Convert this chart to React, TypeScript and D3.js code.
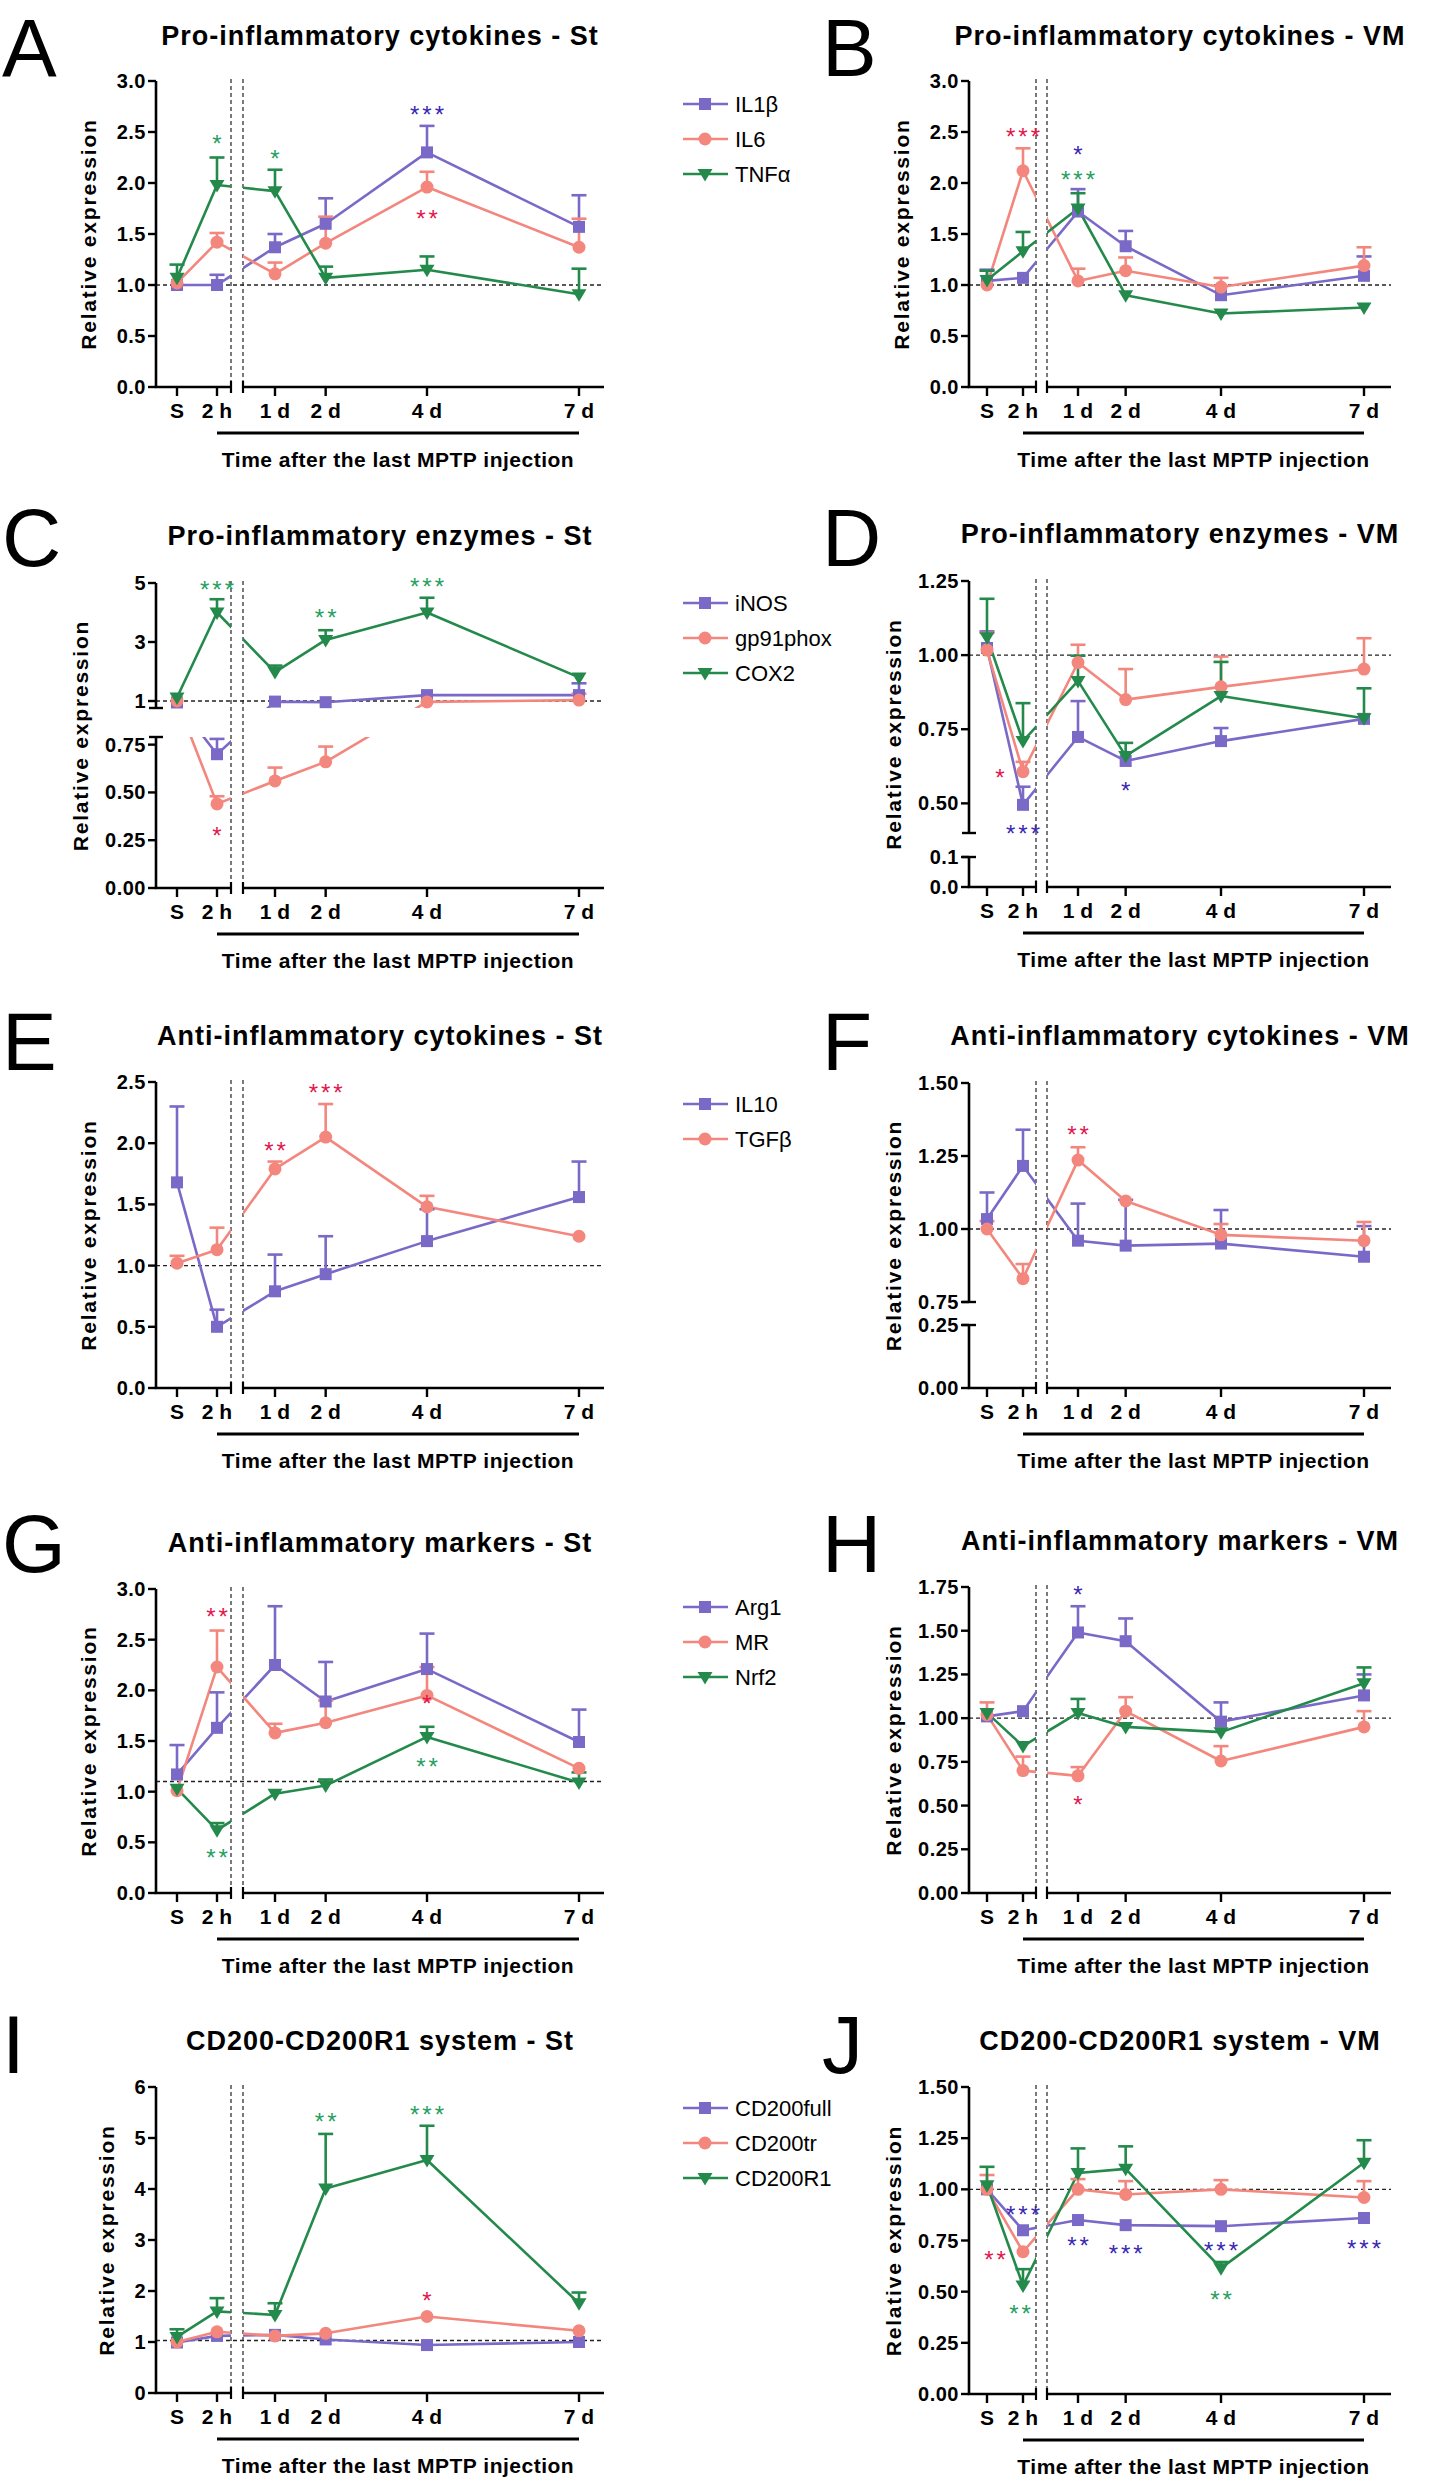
import * as d3 from "d3";
import React from "react";

// time points: sham, 2 h, then days after last MPTP injection
const timeLabels = ["S", "2 h", "1 d", "2 d", "4 d", "7 d"];
const timeDays = [0, 0, 1, 2, 4, 7];

// A - pro-inflammatory cytokines, striatum
const stCytoIL1b = [1.0, 1.0, 1.37, 1.6, 2.3, 1.57];
const stCytoIL1bSem = [0.02, 0.1, 0.13, 0.25, 0.26, 0.31];
const stCytoIL6 = [1.02, 1.42, 1.11, 1.41, 1.96, 1.37];
const stCytoIL6Sem = [0.04, 0.09, 0.11, 0.26, 0.15, 0.28];
const stCytoTNFa = [1.07, 1.98, 1.92, 1.07, 1.15, 0.91];
const stCytoTNFaSem = [0.13, 0.27, 0.21, 0.11, 0.13, 0.25];

// B - pro-inflammatory cytokines, VM
const vmCytoIL1b = [1.04, 1.07, 1.72, 1.38, 0.9, 1.09];
const vmCytoIL1bSem = [0.11, 0.03, 0.22, 0.15, 0.03, 0.19];
const vmCytoIL6 = [1.0, 2.12, 1.04, 1.14, 0.98, 1.19];
const vmCytoIL6Sem = [0.03, 0.22, 0.12, 0.13, 0.09, 0.18];
const vmCytoTNFa = [1.05, 1.33, 1.75, 0.9, 0.72, 0.78];
const vmCytoTNFaSem = [0.09, 0.19, 0.15, 0.02, 0.02, 0.02];

// C - pro-inflammatory enzymes, striatum
const stEnzINOS = [0.95, 0.7, 0.98, 0.96, 1.2, 1.2];
const stEnzINOSSem = [0.03, 0.08, 0.05, 0.03, 0.05, 0.4];
const stEnzGp91 = [1.0, 0.44, 0.56, 0.66, 0.97, 1.03];
const stEnzGp91Sem = [0.02, 0.04, 0.07, 0.08, 0.03, 0.22];
const stEnzCOX2 = [1.12, 4.0, 1.98, 3.07, 4.0, 1.8];
const stEnzCOX2Sem = [0.1, 0.45, 0.22, 0.33, 0.5, 0.15];

// D - pro-inflammatory enzymes, VM
const vmEnzINOS = [1.024, 0.495, 0.724, 0.643, 0.71, 0.785];
const vmEnzINOSSem = [0.056, 0.061, 0.121, 0.01, 0.044, 0.01];
const vmEnzGp91 = [1.017, 0.607, 0.975, 0.85, 0.893, 0.953];
const vmEnzGp91Sem = [0.058, 0.033, 0.06, 0.103, 0.102, 0.104];
const vmEnzCOX2 = [1.06, 0.71, 0.913, 0.66, 0.862, 0.787];
const vmEnzCOX2Sem = [0.13, 0.128, 0.085, 0.044, 0.115, 0.101];

// E - anti-inflammatory cytokines, striatum
const stAntiIL10 = [1.68, 0.5, 0.79, 0.93, 1.2, 1.56];
const stAntiIL10Sem = [0.62, 0.14, 0.3, 0.31, 0.26, 0.29];
const stAntiTGFb = [1.02, 1.13, 1.79, 2.05, 1.48, 1.24];
const stAntiTGFbSem = [0.06, 0.18, 0.06, 0.27, 0.09, 0.02];

// F - anti-inflammatory cytokines, VM
const vmAntiIL10 = [1.034, 1.216, 0.96, 0.943, 0.95, 0.905];
const vmAntiIL10Sem = [0.091, 0.124, 0.127, 0.157, 0.115, 0.105];
const vmAntiTGFb = [1.0, 0.83, 1.236, 1.096, 0.98, 0.96];
const vmAntiTGFbSem = [0.027, 0.05, 0.044, 0.017, 0.037, 0.064];

// G - anti-inflammatory markers, striatum
const stMarkArg1 = [1.17, 1.63, 2.25, 1.89, 2.21, 1.49];
const stMarkArg1Sem = [0.29, 0.35, 0.58, 0.39, 0.35, 0.32];
const stMarkMR = [1.01, 2.23, 1.58, 1.68, 1.95, 1.23];
const stMarkMRSem = [0.03, 0.36, 0.09, 0.22, 0.28, 0.02];
const stMarkNrf2 = [1.03, 0.62, 0.98, 1.06, 1.54, 1.09];
const stMarkNrf2Sem = [0.03, 0.07, 0.02, 0.06, 0.1, 0.1];

// H - anti-inflammatory markers, VM
const vmMarkArg1 = [1.01, 1.04, 1.49, 1.44, 0.98, 1.13];
const vmMarkArg1Sem = [0.02, 0.03, 0.15, 0.13, 0.11, 0.12];
const vmMarkMR = [1.02, 0.7, 0.67, 1.04, 0.755, 0.95];
const vmMarkMRSem = [0.07, 0.08, 0.05, 0.08, 0.085, 0.09];
const vmMarkNrf2 = [1.03, 0.84, 1.03, 0.95, 0.92, 1.2];
const vmMarkNrf2Sem = [0.02, 0.01, 0.08, 0.01, 0.01, 0.09];

// I - CD200-CD200R1, striatum
const stCDFull = [0.99, 1.12, 1.14, 1.05, 0.94, 1.0];
const stCDFullSem = [0.02, 0.05, 0.05, 0.03, 0.03, 0.04];
const stCDTr = [1.0, 1.2, 1.12, 1.17, 1.5, 1.22];
const stCDTrSem = [0.03, 0.04, 0.04, 0.04, 0.04, 0.04];
const stCDR1 = [1.1, 1.6, 1.53, 4.01, 4.57, 1.76];
const stCDR1Sem = [0.15, 0.26, 0.23, 1.07, 0.67, 0.21];

// J - CD200-CD200R1, VM
const vmCDFull = [1.0, 0.8, 0.85, 0.825, 0.82, 0.86];
const vmCDFullSem = [0.02, 0.01, 0.01, 0.01, 0.01, 0.025];
const vmCDTr = [1.0, 0.695, 1.0, 0.975, 1.0, 0.96];
const vmCDTrSem = [0.07, 0.01, 0.05, 0.065, 0.045, 0.08];
const vmCDR1 = [1.02, 0.53, 1.08, 1.1, 0.615, 1.13];
const vmCDR1Sem = [0.09, 0.08, 0.12, 0.11, 0.03, 0.11];

// significance marks: [series, time index, value where the mark sits, label, x nudge]
const starsA = [[2, 1, 2.43, "*"], [2, 2, 2.28, "*"], [0, 4, 2.72, "***"], [1, 4, 1.7, "**"]];
const starsB = [[1, 1, 2.5, "***"], [0, 2, 2.32, "*"], [2, 2, 2.08, "***"]];
const starsC = [[2, 1, 4.93, "***"], [2, 3, 3.98, "**"], [2, 4, 5.03, "***"], [1, 1, 0.3, "*"]];
const starsD = [[1, 1, 0.604, "*", -23], [0, 1, 0.4125, "***"], [0, 3, 0.557, "*"]];
const starsE = [[1, 2, 1.98, "**"], [1, 3, 2.45, "***"]];
const starsF = [[1, 2, 1.34, "**"]];
const starsG = [[1, 1, 2.77, "**"], [2, 1, 0.39, "**"], [1, 4, 1.91, "*"], [2, 4, 1.29, "**"]];
const starsH = [[0, 2, 1.73, "*"], [1, 2, 0.53, "*"]];
const starsI = [[2, 3, 5.41, "**"], [2, 4, 5.55, "***"], [1, 4, 1.9, "*"]];
const starsJ = [
  [0, 1, 0.9, "***"], [1, 1, 0.68, "**", -28], [2, 1, 0.415, "**", -3], [0, 2, 0.75, "**"],
  [0, 3, 0.71, "***"], [0, 4, 0.725, "***"], [2, 4, 0.485, "**"], [0, 5, 0.735, "***"],
];

const PURPLE = "#7b69c7";
const SALMON = "#f3877d";
const GREEN = "#248a4b";
const starColors = ["#3a27b2", "#e2164d", "#25a05e"];
const SANS = "'Liberation Sans', Arial, Helvetica, sans-serif";

const LEFT = { axisX: 156, brk1: 231, brk2: 243, xEnd: 604, xS: 177, x2h: 217, d1: 275, d7: 579, letterX: 2, legendX: 683 };
const RIGHT = { axisX: 969, brk1: 1036, brk2: 1047, xEnd: 1391, xS: 987, x2h: 1023, d1: 1078, d7: 1364, letterX: 822, legendX: 0 };

const tk = (a, b, s) => d3.range(a, b + s / 2, s);

const panels = [
  {
    id: "A", side: "L", title: "Pro-inflammatory cytokines - St", titleY: 45, letterY: 76, legendY: 104, ref: 1,
    segs: [{ lo: 0, hi: 3, bottom: 387, top: 81, ticks: tk(0, 3, 0.5), fmt: ".1f" }],
    series: [
      { name: "IL1β", mean: stCytoIL1b, sem: stCytoIL1bSem },
      { name: "IL6", mean: stCytoIL6, sem: stCytoIL6Sem },
      { name: "TNFα", mean: stCytoTNFa, sem: stCytoTNFaSem },
    ],
    stars: starsA,
  },
  {
    id: "B", side: "R", title: "Pro-inflammatory cytokines - VM", titleY: 45, letterY: 76, ref: 1,
    segs: [{ lo: 0, hi: 3, bottom: 387, top: 81, ticks: tk(0, 3, 0.5), fmt: ".1f" }],
    series: [
      { name: "IL1β", mean: vmCytoIL1b, sem: vmCytoIL1bSem },
      { name: "IL6", mean: vmCytoIL6, sem: vmCytoIL6Sem },
      { name: "TNFα", mean: vmCytoTNFa, sem: vmCytoTNFaSem },
    ],
    stars: starsB,
  },
  {
    id: "C", side: "L", title: "Pro-inflammatory enzymes - St", titleY: 545, letterY: 566, legendY: 603, ref: 1,
    segs: [
      { lo: 0.763, hi: 5, bottom: 708, top: 583, ticks: [1, 3, 5], fmt: "d" },
      { lo: 0, hi: 0.79, bottom: 888, top: 737, ticks: tk(0, 0.75, 0.25), fmt: ".2f" },
    ],
    series: [
      { name: "iNOS", mean: stEnzINOS, sem: stEnzINOSSem },
      { name: "gp91phox", mean: stEnzGp91, sem: stEnzGp91Sem },
      { name: "COX2", mean: stEnzCOX2, sem: stEnzCOX2Sem },
    ],
    stars: starsC,
  },
  {
    id: "D", side: "R", title: "Pro-inflammatory enzymes - VM", titleY: 543, letterY: 566, ref: 1,
    segs: [
      { lo: 0.4, hi: 1.25, bottom: 833, top: 581, ticks: tk(0.5, 1.25, 0.25), fmt: ".2f" },
      { lo: 0, hi: 0.1, bottom: 887, top: 857, ticks: [0, 0.1], fmt: ".1f" },
    ],
    series: [
      { name: "iNOS", mean: vmEnzINOS, sem: vmEnzINOSSem },
      { name: "gp91phox", mean: vmEnzGp91, sem: vmEnzGp91Sem },
      { name: "COX2", mean: vmEnzCOX2, sem: vmEnzCOX2Sem },
    ],
    stars: starsD,
  },
  {
    id: "E", side: "L", title: "Anti-inflammatory cytokines - St", titleY: 1045, letterY: 1070, legendY: 1104, ref: 1,
    segs: [{ lo: 0, hi: 2.5, bottom: 1388, top: 1082, ticks: tk(0, 2.5, 0.5), fmt: ".1f" }],
    series: [
      { name: "IL10", mean: stAntiIL10, sem: stAntiIL10Sem },
      { name: "TGFβ", mean: stAntiTGFb, sem: stAntiTGFbSem },
    ],
    stars: starsE,
  },
  {
    id: "F", side: "R", title: "Anti-inflammatory cytokines - VM", titleY: 1045, letterY: 1070, ref: 1,
    segs: [
      { lo: 0.75, hi: 1.5, bottom: 1302, top: 1083, ticks: tk(0.75, 1.5, 0.25), fmt: ".2f" },
      { lo: 0, hi: 0.25, bottom: 1388, top: 1325, ticks: [0, 0.25], fmt: ".2f" },
    ],
    series: [
      { name: "IL10", mean: vmAntiIL10, sem: vmAntiIL10Sem },
      { name: "TGFβ", mean: vmAntiTGFb, sem: vmAntiTGFbSem },
    ],
    stars: starsF,
  },
  {
    id: "G", side: "L", title: "Anti-inflammatory markers - St", titleY: 1552, letterY: 1572, legendY: 1607, ref: 1.1,
    segs: [{ lo: 0, hi: 3, bottom: 1893, top: 1589, ticks: tk(0, 3, 0.5), fmt: ".1f" }],
    series: [
      { name: "Arg1", mean: stMarkArg1, sem: stMarkArg1Sem },
      { name: "MR", mean: stMarkMR, sem: stMarkMRSem },
      { name: "Nrf2", mean: stMarkNrf2, sem: stMarkNrf2Sem },
    ],
    stars: starsG,
  },
  {
    id: "H", side: "R", title: "Anti-inflammatory markers - VM", titleY: 1550, letterY: 1572, ref: 1,
    segs: [{ lo: 0, hi: 1.75, bottom: 1893, top: 1587, ticks: tk(0, 1.75, 0.25), fmt: ".2f" }],
    series: [
      { name: "Arg1", mean: vmMarkArg1, sem: vmMarkArg1Sem },
      { name: "MR", mean: vmMarkMR, sem: vmMarkMRSem },
      { name: "Nrf2", mean: vmMarkNrf2, sem: vmMarkNrf2Sem },
    ],
    stars: starsH,
  },
  {
    id: "I", side: "L", title: "CD200-CD200R1 system - St", titleY: 2050, letterY: 2073, legendY: 2108, ref: 1.03,
    segs: [{ lo: 0, hi: 6, bottom: 2393, top: 2087, ticks: tk(0, 6, 1), fmt: "d" }],
    series: [
      { name: "CD200full", mean: stCDFull, sem: stCDFullSem },
      { name: "CD200tr", mean: stCDTr, sem: stCDTrSem },
      { name: "CD200R1", mean: stCDR1, sem: stCDR1Sem },
    ],
    stars: starsI,
  },
  {
    id: "J", side: "R", title: "CD200-CD200R1 system - VM", titleY: 2050, letterY: 2073, ref: 1,
    segs: [{ lo: 0, hi: 1.5, bottom: 2394, top: 2087, ticks: tk(0, 1.5, 0.25), fmt: ".2f" }],
    series: [
      { name: "CD200full", mean: vmCDFull, sem: vmCDFullSem },
      { name: "CD200tr", mean: vmCDTr, sem: vmCDTrSem },
      { name: "CD200R1", mean: vmCDR1, sem: vmCDR1Sem },
    ],
    stars: starsJ,
  },
];

const seriesColors = [PURPLE, SALMON, GREEN];

function Marker({ kind, x, y, color }) {
  if (kind === 0) return <rect x={x - 6} y={y - 6} width={12} height={12} fill={color} />;
  if (kind === 1) return <circle cx={x} cy={y} r={6.5} fill={color} />;
  return <path d={`M${x - 7.5},${y - 5}L${x + 7.5},${y - 5}L${x},${y + 7.5}Z`} fill={color} />;
}

function Panel({ p }) {
  const g = p.side === "L" ? LEFT : RIGHT;
  const segs = p.segs.map((s) => ({ ...s, sc: d3.scaleLinear().domain([s.lo, s.hi]).range([s.bottom, s.top]) }));
  const yTop = segs[0].top;
  const axisY = segs[segs.length - 1].bottom;
  const segOf = (v) => segs.find((s) => v >= s.lo) || segs[segs.length - 1];
  const yOf = (v) => segOf(v).sc(v);

  const xCat = d3.scalePoint().domain(timeLabels.slice(0, 2)).range([g.xS, g.x2h]);
  const xDay = d3.scaleLinear().domain([1, 7]).range([g.d1, g.d7]);
  const xOf = (i) => (i < 2 ? xCat(timeLabels[i]) : xDay(timeDays[i]));
  const line = d3.line();

  const xClips = [[g.axisX, g.brk1], [g.brk2, g.xEnd + 20]];
  const yClips = segs.map((s, k) => [k === 0 ? yTop - 80 : s.top, k === segs.length - 1 ? s.bottom + 10 : s.bottom]);

  const maxChars = d3.max(segs.flatMap((s) => s.ticks.map((t) => d3.format(s.fmt)(t).length)));
  const labelCx = g.axisX - (39 + 8.7 * maxChars);
  const labelCy = (yTop + axisY) / 2;
  const dash = "4,3";

  return (
    <g fontFamily={SANS}>
      <defs>
        {xClips.map((xc, i) =>
          yClips.map((yc, j) => (
            <clipPath key={`${i}-${j}`} id={`clip-${p.id}-${i}-${j}`}>
              <rect x={xc[0]} y={yc[0]} width={xc[1] - xc[0]} height={yc[1] - yc[0]} />
            </clipPath>
          ))
        )}
      </defs>

      <text x={g.letterX} y={p.letterY} fontSize={82} fill="#000">{p.id}</text>
      <text x={(g.axisX + g.xEnd) / 2} y={p.titleY} fontSize={27} fontWeight="bold" letterSpacing={1} textAnchor="middle">
        {p.title}
      </text>

      {/* break guides and reference line */}
      {[g.brk1, g.brk2].map((x) => (
        <line key={x} x1={x} x2={x} y1={yTop - 2} y2={axisY} stroke="#222" strokeWidth={1.2} strokeDasharray={dash} />
      ))}
      <line x1={g.axisX} x2={g.xEnd} y1={yOf(p.ref)} y2={yOf(p.ref)} stroke="#222" strokeWidth={1.4} strokeDasharray={dash} />

      {/* y axis segments */}
      {segs.map((s, k) => (
        <g key={k}>
          <line x1={g.axisX} x2={g.axisX} y1={s.top} y2={s.bottom} stroke="#000" strokeWidth={2.6} />
          {s.ticks.map((t) => (
            <g key={t}>
              <line x1={g.axisX - 8} x2={g.axisX} y1={s.sc(t)} y2={s.sc(t)} stroke="#000" strokeWidth={2.4} />
              <text x={g.axisX - 10} y={s.sc(t) + 7} fontSize={20} fontWeight="bold" textAnchor="end" letterSpacing={0.5}>
                {d3.format(s.fmt)(t)}
              </text>
            </g>
          ))}
          {segs.length > 1 && k < segs.length - 1 && (
            <line x1={g.axisX - 7} x2={g.axisX + 7} y1={s.bottom} y2={s.bottom} stroke="#000" strokeWidth={2.4} />
          )}
          {segs.length > 1 && k > 0 && (
            <line x1={g.axisX - 7} x2={g.axisX + 7} y1={s.top} y2={s.top} stroke="#000" strokeWidth={2.4} />
          )}
        </g>
      ))}
      <text
        transform={`translate(${labelCx + 5.5},${labelCy}) rotate(-90)`}
        fontSize={21} fontWeight="bold" letterSpacing={1.8} textAnchor="middle"
      >
        Relative expression
      </text>

      {/* x axis in two pieces */}
      <line x1={g.axisX - 1.3} x2={g.brk1} y1={axisY} y2={axisY} stroke="#000" strokeWidth={2.6} />
      <line x1={g.brk2} x2={g.xEnd} y1={axisY} y2={axisY} stroke="#000" strokeWidth={2.6} />
      <line x1={g.brk1} x2={g.brk1} y1={axisY - 6} y2={axisY + 6} stroke="#000" strokeWidth={2.2} />
      <line x1={g.brk2} x2={g.brk2} y1={axisY - 6} y2={axisY + 6} stroke="#000" strokeWidth={2.2} />
      {timeLabels.map((lab, i) => (
        <g key={lab}>
          <line x1={xOf(i)} x2={xOf(i)} y1={axisY} y2={axisY + 9} stroke="#000" strokeWidth={2.4} />
          <text x={xOf(i)} y={axisY + 31} fontSize={21} fontWeight="bold" textAnchor="middle">{lab}</text>
        </g>
      ))}
      <line x1={xOf(1)} x2={xOf(5)} y1={axisY + 46} y2={axisY + 46} stroke="#000" strokeWidth={3} />
      <text x={(xOf(1) + xOf(5)) / 2} y={axisY + 80} fontSize={21} fontWeight="bold" letterSpacing={0.5} textAnchor="middle">
        Time after the last MPTP injection
      </text>

      {/* connecting lines, clipped to each axis piece */}
      {p.series.map((s, si) => {
        const pts = s.mean.map((m, i) => [xOf(i), yOf(m)]);
        return xClips.map((xc, i) =>
          yClips.map((yc, j) => (
            <path
              key={`${si}-${i}-${j}`}
              d={line(pts)}
              fill="none"
              stroke={seriesColors[si]}
              strokeWidth={2.6}
              strokeLinejoin="round"
              clipPath={`url(#clip-${p.id}-${i}-${j})`}
            />
          ))
        );
      })}

      {/* error bars (upper only) */}
      {p.series.map((s, si) =>
        s.mean.map((m, i) => {
          const sc = segOf(m).sc;
          const y0 = sc(m);
          const y1 = sc(m + s.sem[i]);
          if (y0 - y1 < 6) return null;
          const x = xOf(i);
          return (
            <g key={`${si}-${i}`} stroke={seriesColors[si]} strokeWidth={2.6}>
              <line x1={x} x2={x} y1={y0} y2={y1} />
              <line x1={x - 7.5} x2={x + 7.5} y1={y1} y2={y1} />
            </g>
          );
        })
      )}

      {p.series.map((s, si) =>
        s.mean.map((m, i) => <Marker key={`${si}-${i}`} kind={si} x={xOf(i)} y={yOf(m)} color={seriesColors[si]} />)
      )}

      {p.stars.map(([si, i, v, lab, dx], k) => (
        <text
          key={k}
          x={xOf(i) + (dx || 0) + 1.5}
          y={segOf(v).sc(v) + 13}
          fontSize={24}
          letterSpacing={3}
          textAnchor="middle"
          fill={starColors[si]}
        >
          {lab}
        </text>
      ))}

      {p.side === "L" &&
        p.series.map((s, si) => {
          const y = p.legendY + si * 35;
          return (
            <g key={s.name}>
              <line x1={g.legendX} x2={g.legendX + 45} y1={y} y2={y} stroke={seriesColors[si]} strokeWidth={2.6} />
              <Marker kind={si} x={g.legendX + 22} y={y} color={seriesColors[si]} />
              <text x={g.legendX + 52} y={y + 8} fontSize={22}>{s.name}</text>
            </g>
          );
        })}
    </g>
  );
}

export default function App() {
  return (
    <svg width={1440} height={2481} style={{ position: "absolute", left: 0, top: 0, background: "#fff" }}>
      <rect width={1440} height={2481} fill="#fff" />
      {panels.map((p) => (
        <Panel key={p.id} p={p} />
      ))}
    </svg>
  );
}
